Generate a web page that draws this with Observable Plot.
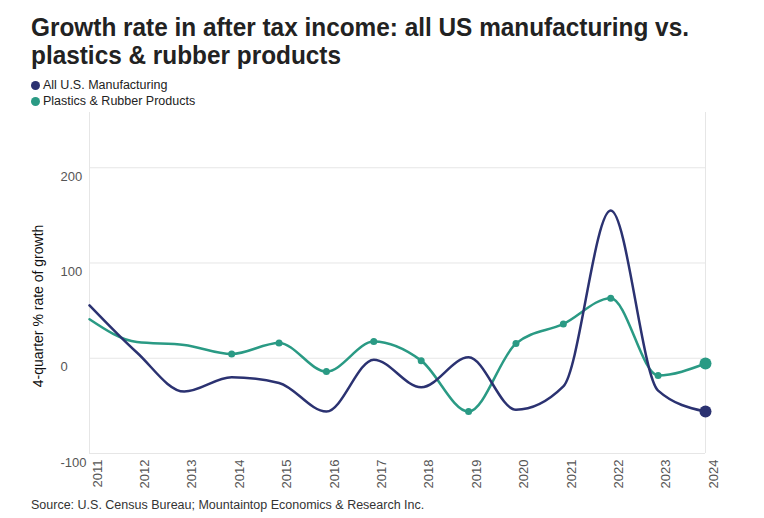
<!DOCTYPE html>
<html>
<head>
<meta charset="utf-8">
<script src="https://cdn.jsdelivr.net/npm/d3@7"></script>
<script src="https://cdn.jsdelivr.net/npm/@observablehq/plot@0.6"></script>
<style>
  html, body { margin: 0; padding: 0; background: #fff; }
  body { width: 764px; height: 518px; position: relative; overflow: hidden; font-family: "Liberation Sans", Arial, sans-serif; }
  #title { position: absolute; left: 31px; top: 13px; margin: 0; display: inline-block; white-space: nowrap; font-family: "Liberation Sans", Arial, sans-serif; font-weight: bold; font-size: 25px; line-height: 28px; color: #222; transform-origin: 0 0; }
  .leg { position: absolute; left: 31px; font-size: 12.5px; color: #222; display: flex; align-items: center; }
  .leg .sw { width: 9px; height: 9px; border-radius: 50%; display: inline-block; margin-right: 3px; }
  #chart { position: absolute; left: 0; top: 105px; }
  #ylab { position: absolute; left: 38px; top: 306px; transform: translate(-50%, -50%) rotate(-90deg); white-space: nowrap; font-size: 14px; color: #111; }
  #source { position: absolute; left: 31px; top: 498px; font-size: 12.5px; color: #333; }
</style>
</head>
<body>
<h1 id="title">Growth rate in after tax income: all US manufacturing vs.<br>plastics &amp; rubber products</h1>
<div class="leg" style="top:78px"><span class="sw" style="background:#2b3271"></span>All U.S. Manufacturing</div>
<div class="leg" style="top:94px"><span class="sw" style="background:#2a9a84"></span>Plastics &amp; Rubber Products</div>
<div id="ylab">4-quarter % rate of growth</div>
<div id="chart"></div>
<div id="source">Source: U.S. Census Bureau; Mountaintop Economics &amp; Research Inc.</div>
<script>
const years = [2011, 2012, 2013, 2014, 2015, 2016, 2017, 2018, 2019, 2020, 2021, 2022, 2023, 2024];
const allManufacturing = [55.5, 6, -35, -20, -26, -56, -1.5, -30.5, 1, -54, -29.5, 155, -34, -56];
const plasticsRubber = [41, 17, 14, 4.5, 16, -14, 17.5, -2.5, -56, 15.5, 36, 63, -18, -5.5];
const yTicks = [-100, 0, 100, 200];
const seriesNames = ["All U.S. Manufacturing", "Plastics & Rubber Products"];
const colors = ["#2b3271", "#2a9a84"];

// condense the title to the reference width
{
  const el = document.getElementById("title");
  const cur = el.getBoundingClientRect().width;
  el.style.transform = `scaleX(${658 / cur})`;
}

const navy = years.map((y, i) => ({year: y, value: allManufacturing[i]}));
const teal = years.map((y, i) => ({year: y, value: plasticsRubber[i]}));
const tealDots = teal.filter(d => d.year >= 2014 && d.year <= 2023);
const endDots = [
  {year: years[years.length - 1], value: allManufacturing[allManufacturing.length - 1], s: seriesNames[0]},
  {year: years[years.length - 1], value: plasticsRubber[plasticsRubber.length - 1], s: seriesNames[1]}
];

const chart = Plot.plot({
  width: 764,
  height: 388,
  marginTop: 7,
  marginLeft: 89,
  marginRight: 59,
  marginBottom: 40,
  style: {fontFamily: "Liberation Sans, Arial, sans-serif", fontSize: "13px", color: "#555", background: "transparent"},
  x: {domain: [2011, 2024]},
  y: {domain: [-100, 258]},
  color: {domain: seriesNames, range: colors},
  marks: [
    Plot.gridY(yTicks, {stroke: "#e6e6e6", strokeOpacity: 1}),
    Plot.ruleX([2011, 2024], {stroke: "#e6e6e6"}),
    Plot.axisY(yTicks, {tickSize: 0, textAnchor: "start", tickFormat: d => String(d), dx: -20, dy: 9, label: null, fill: "#555"}),
    Plot.axisX(years, {tickSize: 0, tickRotate: -90, tickFormat: d => String(d), dx: 8, dy: -3, label: null, fill: "#555"}),
    Plot.line(teal, {x: "year", y: "value", stroke: colors[1], strokeWidth: 2.5, curve: "monotone-x"}),
    Plot.line(navy, {x: "year", y: "value", stroke: colors[0], strokeWidth: 2.5, curve: "monotone-x"}),
    Plot.dot(tealDots, {x: "year", y: "value", fill: colors[1], r: 3.5}),
    Plot.dot(endDots, {x: "year", y: "value", fill: "s", r: 6})
  ]
});
document.getElementById("chart").appendChild(chart);
</script>
</body>
</html>
